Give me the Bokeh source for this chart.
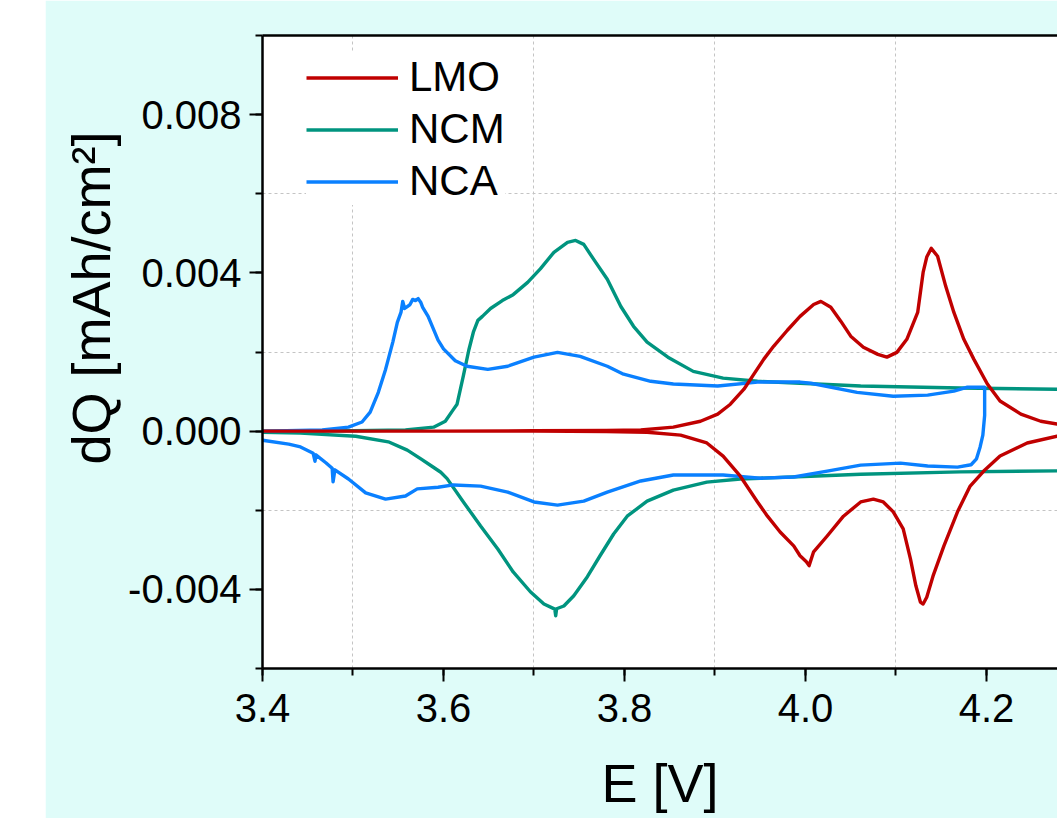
import numpy as np
from bokeh.plotting import figure
from bokeh.models import (ColumnDataSource, LinearAxis, SingleIntervalTicker, FixedTicker,
                          NumeralTickFormatter, Legend, LegendItem, Title, Range1d, Grid)
from bokeh.embed import file_html
from bokeh.resources import INLINE

# ---- differential capacity curves, E in V, dQ in mAh/cm^2 ----
# LMO
lmo_chg_E = [3.400, 3.500, 3.600, 3.700, 3.780, 3.818, 3.854, 3.884, 3.903, 3.917, 3.932,
             3.943, 3.954, 3.965, 3.980, 3.994, 4.009, 4.017, 4.028, 4.039, 4.050, 4.064,
             4.080, 4.090, 4.101, 4.112, 4.124, 4.130, 4.134, 4.139, 4.146, 4.155, 4.164,
             4.175, 4.186, 4.201, 4.215, 4.238, 4.260, 4.278, 4.300]
lmo_chg_dQ = [0.0, 0.0, 0.0, 0.00001, 0.00002, 0.00003, 0.00010, 0.00025, 0.00043, 0.00068,
              0.00106, 0.00144, 0.00182, 0.00215, 0.00255, 0.00290, 0.00320, 0.00328,
              0.00313, 0.00278, 0.00240, 0.00212, 0.00194, 0.00187, 0.00199, 0.00232,
              0.00300, 0.00401, 0.00440, 0.00462, 0.00442, 0.00366, 0.00300, 0.00232,
              0.00182, 0.00119, 0.00076, 0.00043, 0.00025, 0.00018, 0.00013]
lmo_dis_E = [4.300, 4.278, 4.245, 4.215, 4.197, 4.182, 4.168, 4.153, 4.141, 4.134, 4.130,
             4.127, 4.122, 4.116, 4.108, 4.097, 4.086, 4.075, 4.061, 4.042, 4.024, 4.009,
             4.004, 4.001, 3.994, 3.987, 3.972, 3.958, 3.947, 3.928, 3.909, 3.891, 3.862,
             3.825, 3.780, 3.700, 3.600, 3.500, 3.400]
lmo_dis_dQ = [-0.00010, -0.00013, -0.00030, -0.00063, -0.00101, -0.00139, -0.00204, -0.00290,
              -0.00366, -0.00420, -0.00437, -0.00432, -0.00391, -0.00323, -0.00247, -0.00204,
              -0.00179, -0.00172, -0.00179, -0.00215, -0.00265, -0.00305, -0.00340, -0.00330,
              -0.00315, -0.00290, -0.00255, -0.00215, -0.00179, -0.00114, -0.00063, -0.00030,
              -0.00010, -0.00003, -0.00001, 0.0, 0.0, 0.0, 0.0]

# NCM
ncm_chg_E = [3.400, 3.500, 3.558, 3.589, 3.602, 3.611, 3.615, 3.622, 3.628, 3.633, 3.638,
             3.643, 3.652, 3.665, 3.677, 3.693, 3.707, 3.722, 3.737, 3.746, 3.755, 3.766,
             3.781, 3.796, 3.810, 3.825, 3.848, 3.876, 3.909, 3.947, 3.994, 4.061, 4.171, 4.300]
ncm_chg_dQ = [0.0, 0.00001, 0.00003, 0.00010, 0.00025, 0.00055, 0.00068, 0.00140, 0.00205,
              0.00250, 0.00280, 0.00290, 0.00310, 0.00330, 0.00345, 0.00376, 0.00410, 0.00452,
              0.00477, 0.00482, 0.00472, 0.00434, 0.00384, 0.00315, 0.00265, 0.00225, 0.00187,
              0.00151, 0.00134, 0.00126, 0.00121, 0.00114, 0.00109, 0.00105]
ncm_dis_E = [4.300, 4.171, 4.061, 4.006, 3.950, 3.928, 3.891, 3.854, 3.825, 3.803, 3.788,
             3.773, 3.759, 3.744, 3.733, 3.725, 3.724, 3.723, 3.711, 3.696, 3.677, 3.660,
             3.641, 3.622, 3.604, 3.597, 3.588, 3.575, 3.560, 3.539, 3.503, 3.442, 3.400]
ncm_dis_dQ = [-0.00100, -0.00103, -0.00109, -0.00114, -0.00119, -0.00121, -0.00129, -0.00149,
              -0.00177, -0.00215, -0.00260, -0.00315, -0.00368, -0.00416, -0.00442, -0.00449,
              -0.00467, -0.00450, -0.00437, -0.00406, -0.00356, -0.00298, -0.00240, -0.00179,
              -0.00120, -0.00104, -0.00090, -0.00070, -0.00048, -0.00027, -0.00013, -0.00005,
              -0.00003]

# NCA
nca_chg_E = [3.400, 3.466, 3.495, 3.510, 3.519, 3.528, 3.536, 3.544, 3.549, 3.553, 3.555,
             3.557, 3.560, 3.563, 3.566, 3.569, 3.572, 3.575, 3.577, 3.583, 3.594, 3.600,
             3.613, 3.626, 3.649, 3.671, 3.700, 3.726, 3.751, 3.781, 3.799, 3.829, 3.854,
             3.903, 3.947, 3.994, 4.006, 4.057, 4.097, 4.135, 4.164, 4.179, 4.196, 4.198]
nca_chg_dQ = [0.0, 0.00003, 0.00010, 0.00023, 0.00048, 0.00098, 0.00156, 0.00225, 0.00275,
              0.00300, 0.00328, 0.00310, 0.00315, 0.00320, 0.00333, 0.00330, 0.00335, 0.00325,
              0.00313, 0.00290, 0.00230, 0.00208, 0.00178, 0.00164, 0.00156, 0.00164, 0.00187,
              0.00199, 0.00189, 0.00164, 0.00144, 0.00126, 0.00119, 0.00114, 0.00124, 0.00124,
              0.00121, 0.00098, 0.00088, 0.00091, 0.00101, 0.00111, 0.00111, 0.00111]
nca_dis_E = [4.198, 4.198, 4.196, 4.193, 4.189, 4.183, 4.168, 4.135, 4.105, 4.061, 4.024,
             3.987, 3.950, 3.909, 3.854, 3.818, 3.781, 3.755, 3.726, 3.700, 3.671, 3.641,
             3.611, 3.594, 3.571, 3.558, 3.536, 3.514, 3.495, 3.480, 3.478, 3.477, 3.470,
             3.459, 3.458, 3.456, 3.442, 3.429, 3.400]
nca_dis_dQ = [0.00110, 0.00040, -0.00010, -0.00040, -0.00070, -0.00085, -0.00091, -0.00088,
              -0.00081, -0.00086, -0.00101, -0.00116, -0.00119, -0.00111, -0.00111, -0.00126,
              -0.00154, -0.00177, -0.00187, -0.00179, -0.00154, -0.00139, -0.00136, -0.00142,
              -0.00146, -0.00164, -0.00172, -0.00156, -0.00121, -0.00098, -0.00128, -0.00094,
              -0.00080, -0.00060, -0.00076, -0.00056, -0.00040, -0.00033, -0.00023]

series_names = ["LMO", "NCM", "NCA"]
series_colors = {"LMO": "#c00000", "NCM": "#00947f", "NCA": "#0a80ff"}

FONT = "Liberation Sans"
PAGE_BG = "#dffcf9"

p = figure(width=1012, height=818, output_backend="svg", toolbar_location=None,
           x_range=Range1d(3.4, 4.2785), y_range=Range1d(-0.006, 0.010),
           x_axis_type=None, y_axis_type=None,
           min_border_left=217, min_border_right=0, min_border_top=35, min_border_bottom=150,
           background_fill_color="white", border_fill_color=PAGE_BG,
           outline_line_color=None)
p.margin = (0, 0, 0, 45)


def style_axis(ax, standoff):
    ax.axis_line_width = 2.5
    ax.axis_line_color = "black"
    ax.major_tick_line_width = 2
    ax.minor_tick_line_width = 2
    ax.major_tick_out = 13
    ax.major_tick_in = 0
    ax.minor_tick_out = 7
    ax.minor_tick_in = 0
    ax.major_label_text_font = FONT
    ax.major_label_text_font_size = "40px"
    ax.major_label_text_color = "black"
    ax.major_label_standoff = standoff


xaxis = LinearAxis(ticker=SingleIntervalTicker(interval=0.2, num_minor_ticks=2),
                   formatter=NumeralTickFormatter(format="0.0"),
                   axis_label="E [V]", axis_label_standoff=28,
                   axis_label_text_font=FONT, axis_label_text_font_size="54px",
                   axis_label_text_font_style="normal", axis_label_text_color="black")
style_axis(xaxis, 12)
p.add_layout(xaxis, "below")

yaxis = LinearAxis(ticker=SingleIntervalTicker(interval=0.004, num_minor_ticks=2),
                   formatter=NumeralTickFormatter(format="0.000"))
style_axis(yaxis, 8)
p.add_layout(yaxis, "left")

# top frame line
top = LinearAxis(ticker=FixedTicker(ticks=[]), major_tick_out=0, minor_tick_out=0,
                 major_label_standoff=0, axis_line_width=2.5, axis_line_color="black")
p.add_layout(top, "above")

# dashed grid between major ticks
xgrid_pos = [round(v, 2) for v in np.arange(3.5, 4.25, 0.2)]
ygrid_pos = [round(v, 4) for v in np.arange(-0.002, 0.0070, 0.004)]
for dim, pos in ((0, xgrid_pos), (1, ygrid_pos)):
    g = Grid(dimension=dim, ticker=FixedTicker(ticks=pos), grid_line_color="#c4c4c4",
             grid_line_dash="3 3", grid_line_width=1)
    p.add_layout(g)

# vertical axis title
ylab = Title(text="dQ [mAh/cm²]", align="right", offset=96, standoff=10,
             text_font=FONT, text_font_size="54px", text_font_style="normal",
             text_color="black")
p.add_layout(ylab, "left")

loops = {
    "LMO": (lmo_chg_E + lmo_dis_E, lmo_chg_dQ + lmo_dis_dQ),
    "NCM": (ncm_chg_E + ncm_dis_E, ncm_chg_dQ + ncm_dis_dQ),
    "NCA": (nca_chg_E + nca_dis_E, nca_chg_dQ + nca_dis_dQ),
}

renderers = {}
for name in ["NCM", "NCA", "LMO"]:
    E, dQ = loops[name]
    src = ColumnDataSource(data=dict(E=E, dQ=dQ))
    renderers[name] = p.line("E", "dQ", source=src, line_color=series_colors[name],
                             line_width=3.4, line_join="round")

legend = Legend(items=[LegendItem(label=n, renderers=[renderers[n]]) for n in series_names],
                location=(44, 463), label_text_font=FONT, label_text_font_size="42px",
                label_text_color="black", glyph_width=92, glyph_height=47, label_height=47,
                spacing=4, padding=8, label_standoff=11, margin=0,
                border_line_color=None, background_fill_color="white",
                background_fill_alpha=1.0)
p.add_layout(legend)

open("out.html", "w").write(file_html(p, INLINE))
